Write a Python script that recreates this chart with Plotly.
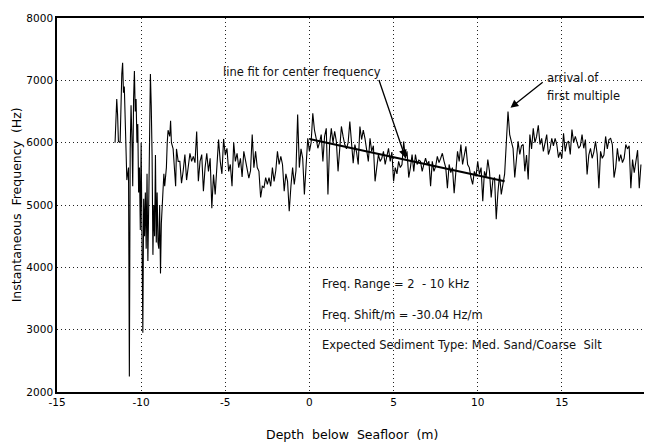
import numpy as np
import plotly.graph_objects as go

# ---- data ----
# spiky near-surface part (explicit depth / frequency pairs)
left_depth = [-11.55, -11.45, -11.4, -11.35, -11.25, -11.2, -11.15, -11.1, -11.05, -11.0,
              -10.95, -10.9, -10.85, -10.75, -10.7, -10.65, -10.6, -10.55, -10.5, -10.45,
              -10.4, -10.35, -10.3, -10.25, -10.2, -10.15, -10.1, -10.05, -10.0, -9.95,
              -9.9, -9.85, -9.8, -9.75, -9.7, -9.65, -9.6, -9.55, -9.5, -9.45,
              -9.4, -9.35, -9.3, -9.25, -9.2, -9.15, -9.1, -9.05, -9.0, -8.95,
              -8.9, -8.85, -8.8, -8.75, -8.7, -8.65, -8.6, -8.5, -8.45, -8.4,
              -8.3, -8.25, -8.2, -8.1, -8.0, -7.95, -7.9, -7.8]
left_freq = [6000, 6700, 6450, 6020, 6000, 6650, 7100, 7280, 6800, 6900,
             6200, 5700, 5400, 5600, 2250, 5900, 6600, 6100, 5300, 6700,
             7150, 6500, 6700, 6000, 6300, 5200, 5600, 4600, 6000, 4500,
             2950, 5100, 4500, 5200, 4300, 5500, 4100, 5000, 6500, 7100,
             6600, 5800, 4200, 5000, 4500, 5800, 4400, 5200, 4400, 4300,
             5000, 3900, 4700, 5000, 5300, 5500, 5300, 5600, 6000, 6200,
             6100, 6350, 6000, 5900, 5500, 5300, 5900, 5700]

# remaining trace, sampled every 0.1 m starting at -7.7 m
main_start = -7.7
main_step = 0.1
main_freq = [
    5700, 5350, 5550, 5810, 5400, 5600, 5830, 5700, 5780, 5680,
    6180, 5380, 5700, 5810, 5220, 5600, 5830, 5540, 5750, 4950,
    5490, 5170, 5600, 6050, 5700, 5500, 6060, 5800, 5910, 5540,
    5650, 5300, 6000, 5700, 5830, 5600, 5750, 5450, 5860, 5700,
    5590, 5430, 5550, 6130, 5600, 5860, 5600, 5540, 5120, 5300,
    5280, 5440, 5330, 5440, 5300, 5600, 5380, 5550, 5860, 5650,
    5780, 5650, 5220, 5500, 5380, 4900, 5300, 5600, 5330, 5550,
    6450, 5600, 5900, 5750, 5170, 5600, 6070, 5860, 6000, 6470,
    6200, 6070, 5910, 6000, 6130, 5700, 6100, 6230, 5170, 5970,
    6230, 6000, 6180, 6020, 5540, 5900, 6260, 6100, 5970, 5900,
    6000, 6340, 5910, 5670, 5970, 5850, 5650, 6260, 6050, 6200,
    6070, 5860, 5700, 6070, 5860, 5950, 5380, 5600, 5810, 5700,
    5750, 5860, 5650, 5780, 5910, 5700, 5850, 5380, 5600, 5500,
    5700, 5600, 5650, 6020, 5750, 5860, 5440, 5600, 5810, 5540,
    5810, 5650, 5720, 5700, 5540, 5650, 5750, 5650, 5700, 5300,
    5700, 5540, 5620, 5780, 5680, 5750, 5830, 5700, 5600, 5270,
    5650, 5520, 5600, 5190, 5500, 5860, 5700, 5970, 5650, 5800,
    5940, 5650, 5600, 5440, 5330, 5540, 5460, 5700, 5490, 5600,
    5060, 5540, 5450, 5730, 5540, 5120, 5400, 5440, 4770, 5200,
    5490, 5170, 5350, 5500, 6000, 6500, 6130, 6020, 5910, 5440,
    5700, 6020, 5810, 5950, 5970, 5540, 5800, 5410, 6130, 5900,
    6230, 6000, 6100, 6280, 5970, 6070, 5860, 6000, 6130, 5810,
    5900, 6070, 5950, 6070, 5970, 5760, 5850, 5750, 6150, 5860,
    6000, 6020, 5810, 6210, 6000, 6100, 5990, 5910, 5950, 6130,
    5910, 6050, 5490, 5800, 5910, 5750, 5850, 6020, 5810, 5270,
    5860, 5750, 5800, 6100, 5900, 6050, 6070, 5970, 5440, 5600,
    5910, 5700, 5810, 5680, 5750, 5970, 5900, 5950, 5270, 5730,
    5520, 5700, 5880, 5270, 5650,
]

# line fit for center frequency
fit_depth = [0.0, 11.6]
fit_freq = [6060, 5380]

x_ticks = [-15, -10, -5, 0, 5, 10, 15, 20]
y_ticks = [2000, 3000, 4000, 5000, 6000, 7000, 8000]

info_lines = ["Freq. Range = 2  - 10 kHz",
              "Freq. Shift/m = -30.04 Hz/m",
              "Expected Sediment Type: Med. Sand/Coarse  Silt"]
info_y = [3740, 3240, 2760]

main_depth = [round(main_start + i * main_step, 2) for i in range(len(main_freq))]
depth = left_depth + main_depth
freq = left_freq + main_freq

FONT = "DejaVu Sans, Verdana, sans-serif"

fig = go.Figure()
fig.add_trace(go.Scatter(x=depth, y=freq, mode="lines",
                         line=dict(color="black", width=1.1), showlegend=False))
fig.add_trace(go.Scatter(x=fit_depth, y=fit_freq, mode="lines",
                         line=dict(color="black", width=2), showlegend=False))

NOTE = dict(size=11.5, color="#111111", family=FONT)
annotations = [
    dict(x=-5.25, y=7140, xref="x", yref="y", text="line fit for center frequency",
         showarrow=False, xanchor="left", yanchor="middle", font=NOTE),
    dict(x=5.7, y=5760, xref="x", yref="y", ax=4.1, ay=7030, axref="x", ayref="y",
         text="", showarrow=True, arrowhead=2, arrowsize=1.2, arrowwidth=1.3,
         arrowcolor="black"),
    dict(x=14.0, y=7040, xref="x", yref="y", text="arrival of",
         showarrow=False, xanchor="left", yanchor="middle", font=NOTE),
    dict(x=14.0, y=6750, xref="x", yref="y", text="first multiple",
         showarrow=False, xanchor="left", yanchor="middle", font=NOTE),
    dict(x=11.95, y=6560, xref="x", yref="y", ax=13.95, ay=6990, axref="x", ayref="y",
         text="", showarrow=True, arrowhead=2, arrowsize=1.2, arrowwidth=1.3,
         arrowcolor="black"),
    dict(x=-0.069, y=0.5, xref="paper", yref="paper",
         text="Instantaneous  Frequency  (Hz)", textangle=-90, showarrow=False,
         xanchor="center", yanchor="middle",
         font=dict(size=12.5, color="black", family=FONT)),
    dict(x=0.5, y=-0.114, xref="paper", yref="paper",
         text="Depth  below  Seafloor  (m)", showarrow=False,
         xanchor="center", yanchor="middle",
         font=dict(size=12.5, color="black", family=FONT)),
]
for t, yy in zip(info_lines, info_y):
    annotations.append(dict(x=0.6, y=yy, xref="x", yref="y", text=t, showarrow=False,
                            xanchor="left", yanchor="middle", font=NOTE))

GRID = dict(showgrid=True, gridcolor="#222222", griddash="1px,3px", gridwidth=1)
TICKF = dict(size=10.5, color="black", family=FONT)

# page body adds an 8px offset, so the figure is sized to the visible area
fig.update_layout(
    width=644, height=435,
    margin=dict(l=49, r=4, t=8, b=51),
    paper_bgcolor="white", plot_bgcolor="white",
    font=dict(family=FONT, color="black"),
    annotations=annotations,
    xaxis=dict(range=[-15, 20], tickvals=x_ticks, ticktext=[str(v) for v in x_ticks],
               showline=True, mirror=True, linecolor="black", linewidth=1.6,
               zeroline=False, ticks="", tickfont=TICKF, **GRID),
    yaxis=dict(range=[2000, 8000], tickvals=y_ticks, ticktext=[str(v) for v in y_ticks],
               showline=True, mirror=True, linecolor="black", linewidth=1.6,
               zeroline=False, ticks="", tickfont=TICKF, **GRID),
)

fig.write_html("out.html")
